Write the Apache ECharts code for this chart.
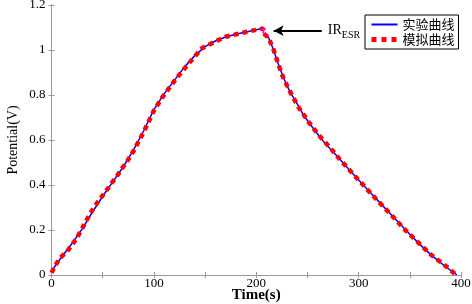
<!DOCTYPE html>
<html>
<head>
<meta charset="utf-8">
<script src="https://cdn.jsdelivr.net/npm/echarts@6/dist/echarts.min.js"></script>
<style>
  html, body {margin: 0; padding: 0; background: #fff;}
  #chart {width: 472px; height: 304px;}
</style>
</head>
<body>
<div id="chart"></div>
<script>
// experimental curve (charge, then discharge after the IR drop)
const expCharge = [
  [0, 0.015], [5, 0.05], [10, 0.08], [20, 0.14], [30, 0.205], [40, 0.28],
  [50, 0.35], [60, 0.415], [70, 0.48], [80, 0.555], [90, 0.64], [100, 0.735],
  [110, 0.805], [120, 0.865], [130, 0.925], [140, 0.975], [150, 1.015],
  [160, 1.04], [170, 1.058], [180, 1.07], [190, 1.08], [200, 1.09], [207, 1.097]
];
const irDrop = [[207, 1.097], [207, 1.074]];
const expDischarge = [
  [207, 1.074], [212, 1.055], [217, 1.0], [220, 0.958], [223, 0.92], [226, 0.884],
  [230, 0.842], [234, 0.806], [238, 0.776], [242, 0.745], [246, 0.712], [251, 0.68],
  [256, 0.65], [261, 0.62], [267, 0.586], [274, 0.553], [281, 0.518], [290, 0.472],
  [300, 0.422], [310, 0.373], [320, 0.325], [330, 0.277], [340, 0.229], [350, 0.181],
  [360, 0.135], [370, 0.093], [380, 0.055], [390, 0.02], [396, 0]
];
// simulated curve
const simCurve = [
  [0, 0.01], [4, 0.044], [8, 0.074], [15, 0.104], [20, 0.133], [25, 0.166],
  [30, 0.207], [35, 0.25], [40, 0.289], [45, 0.323], [54, 0.378], [59, 0.41],
  [64, 0.44], [69, 0.474], [74, 0.506], [80, 0.55], [90, 0.635], [100, 0.73],
  [108, 0.788], [122, 0.874], [135, 0.945], [147, 1.008], [163, 1.044],
  [170, 1.059], [191, 1.081], [207, 1.096], [207, 1.074], [212, 1.055], [217, 1.0],
  [223, 0.919], [226, 0.881], [233, 0.815], [241, 0.748], [251, 0.681], [261, 0.622],
  [274, 0.556], [282, 0.512], [300, 0.422], [318, 0.333], [335, 0.252], [347, 0.193],
  [371, 0.089], [386, 0.037], [394, 0.005]
];
const xTicks = [0, 100, 200, 300, 400];
const arrowFrom = [264, 1.086];
const arrowTo = [217, 1.086];

const serif = 'Liberation Serif';
const axisColor = '#999';

const myChart = echarts.init(document.getElementById('chart'));
myChart.setOption({
  animation: false,
  grid: {left: 51.5, right: 11, top: 5, bottom: 29, show: false, outerBoundsMode: 'none'},
  legend: {
    orient: 'vertical',
    left: 365, top: 15,
    padding: [3, 4, 3, 4],
    itemGap: 2,
    itemWidth: 26,
    itemHeight: 12,
    borderColor: '#000',
    borderWidth: 1,
    backgroundColor: '#fff',
    itemStyle: {opacity: 0},
    textStyle: {fontFamily: 'Noto Sans CJK SC', fontSize: 13, color: '#000'},
    data: [
      {name: '实验曲线', lineStyle: {width: 2}},
      {name: '模拟曲线', lineStyle: {width: 5, type: [5, 5]}}
    ]
  },
  xAxis: [
    {
      type: 'value', min: 0, max: 400, interval: 50,
      name: 'Time(s)', nameLocation: 'middle', nameGap: 13, nameMoveOverlap: false,
      nameTextStyle: {fontFamily: serif, fontSize: 15, fontWeight: 'bold', color: '#000'},
      axisLine: {lineStyle: {color: axisColor}},
      axisTick: {inside: true, length: 3, lineStyle: {color: axisColor}},
      axisLabel: {
        fontFamily: serif, fontSize: 13, color: '#000', margin: 2,
        formatter: v => xTicks.includes(v) ? String(v) : ''
      },
      splitLine: {show: false}
    },
    {
      type: 'value', min: 0, max: 400, interval: 50, position: 'top',
      axisLine: {lineStyle: {color: axisColor}},
      axisTick: {inside: true, length: 3, lineStyle: {color: axisColor}},
      axisLabel: {show: false},
      splitLine: {show: false}
    }
  ],
  yAxis: [
    {
      type: 'value', min: 0, max: 1.2, interval: 0.2,
      name: 'Potential(V)', nameLocation: 'middle', nameGap: 31, nameMoveOverlap: false,
      nameTextStyle: {fontFamily: serif, fontSize: 14, color: '#000'},
      axisLine: {show: true, lineStyle: {color: axisColor}},
      axisTick: {show: true, inside: true, length: 3, lineStyle: {color: axisColor}},
      axisLabel: {fontFamily: serif, fontSize: 13, color: '#000', margin: 6},
      splitLine: {show: false}
    },
    {
      type: 'value', min: 0, max: 1.2, interval: 0.2, position: 'right',
      axisLine: {show: true, lineStyle: {color: axisColor}},
      axisTick: {show: true, inside: true, length: 3, lineStyle: {color: axisColor}},
      axisLabel: {show: false},
      splitLine: {show: false}
    }
  ],
  series: [
    {
      name: '实验曲线', type: 'line', data: expCharge, symbol: 'none',
      lineStyle: {color: '#0000ff', width: 1.5}, itemStyle: {color: '#0000ff'}, z: 2
    },
    {
      name: '实验曲线', type: 'line', data: expDischarge, symbol: 'none',
      lineStyle: {color: '#0000ff', width: 1.5}, itemStyle: {color: '#0000ff'}, z: 2
    },
    {
      name: 'IR', type: 'line', data: irDrop, symbol: 'none',
      lineStyle: {color: '#ff00ff', width: 2}, z: 4
    },
    {
      name: '模拟曲线', type: 'line', data: simCurve, symbol: 'none',
      lineStyle: {color: '#ff0000', width: 4.5, type: [5, 4], cap: 'butt'},
      itemStyle: {color: '#ff0000'}, z: 3,
      markLine: {
        silent: true,
        symbol: ['none', 'arrow'],
        symbolSize: [8, 10],
        lineStyle: {color: '#000', width: 2, type: 'solid'},
        label: {
          position: 'start', distance: 6,
          formatter: '{a|IR}{b|ESR}',
          rich: {
            a: {fontFamily: serif, fontSize: 14, color: '#000'},
            b: {fontFamily: serif, fontSize: 10, color: '#000', padding: [10, 0, 0, 0]}
          }
        },
        data: [[{coord: arrowFrom}, {coord: arrowTo}]]
      }
    }
  ]
});
</script>
</body>
</html>
